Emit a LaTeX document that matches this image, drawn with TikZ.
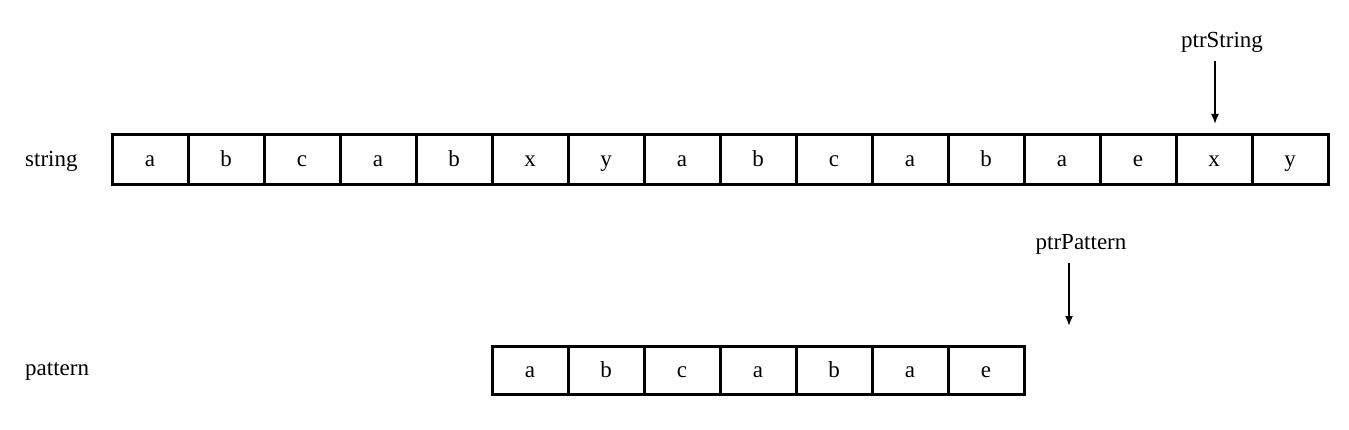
\documentclass[tikz,border=0pt]{standalone}
\usepackage{fontspec}
\setmainfont{Liberation Serif}
\usetikzlibrary{arrows.meta}
\begin{document}
\begin{tikzpicture}[x=1pt,y=-1pt,
  cell/.style={draw=black,line width=3pt,minimum width=76pt,minimum height=50pt,inner sep=0pt,outer sep=0pt,text height=14pt,text depth=0pt,font=\fontsize{23}{27}\selectfont},
  pcell/.style={cell,minimum height=48pt},
  lbl/.style={inner sep=0pt,font=\fontsize{23}{27}\selectfont},
  ptr/.style={line width=1.6pt,-{Latex[length=10pt,width=8pt]}}]
\useasboundingbox (0,0) rectangle (1349,430);
\foreach \c [count=\i from 0] in {a,b,c,a,b,x,y,a,b,c,a,b,a,e,x,y}
  \node[cell] (s\i) at (150+76*\i,160) {\c};
\foreach \c [count=\i from 0] in {a,b,c,a,b,a,e}
  \node[pcell] (p\i) at (530+76*\i,370) {\c};
\node[lbl,anchor=base west] (lstr) at (25,167) {string};
\node[lbl,anchor=base west] (lpat) at (25,375) {pattern};
\node[lbl,anchor=base] (ps) at (1222,48) {ptrString};
\node[lbl,anchor=base] (pp) at (1081,250) {ptrPattern};
\coordinate (sTop) at (1215,61);
\coordinate (sTip) at (1215,124);
\coordinate (pTop) at (1069,263);
\coordinate (pTip) at (1069,326);
\draw[ptr] (sTop) -- (sTip);
\draw[ptr] (pTop) -- (pTip);
\end{tikzpicture}
\end{document}
